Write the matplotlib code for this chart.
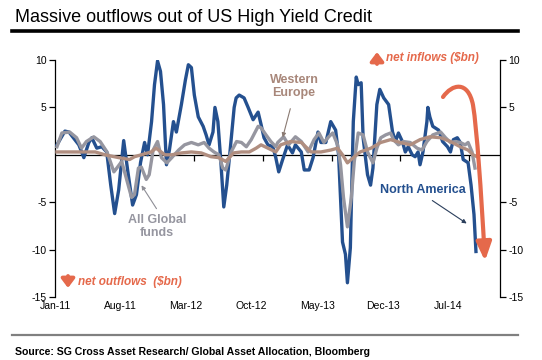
import matplotlib
matplotlib.use("Agg")
import matplotlib.pyplot as plt
from matplotlib.patches import FancyArrowPatch
from matplotlib.path import Path

plt.rcParams['font.family'] = ['Liberation Sans', 'DejaVu Sans']

# ---- data (x = months since Jan-2011, y = $bn) ----
na_x = [0.0, 0.81, 1.22, 2.23, 2.74, 3.25, 3.55, 4.06, 4.57, 5.07, 5.48, 5.88, 6.29, 6.80, 7.2, 7.71, 8.1,
        8.52, 8.93, 9.23, 9.64, 9.94, 10.25, 10.55, 10.86, 11.16, 11.46, 11.87, 12.17, 12.68, 13.09, 13.39,
        13.7, 14.0, 14.4, 14.9, 15.2, 15.5, 15.9, 16.1, 16.4, 16.7, 17.0, 17.3, 17.65, 18.06, 18.26, 18.57,
        19.07, 19.48, 19.99, 20.5, 20.8, 21.1, 21.5, 22.0, 22.3, 22.6, 23.0, 23.5, 24.0, 24.3, 24.9, 25.2,
        25.7, 26.1, 26.6, 26.9, 27.4, 27.9, 28.4, 28.7, 29.1, 29.4, 29.6, 29.9, 30.2, 30.5, 30.7, 31.0,
        31.2, 31.65, 31.96, 32.2, 32.6, 32.9, 33.3, 33.8, 34.2, 34.5, 34.8, 35.2, 35.5, 35.8, 36.2, 36.5,
        36.8, 37.0, 37.3, 37.7, 37.8, 38.0, 38.3, 38.9, 39.3, 39.8, 40.1, 40.4, 40.8, 41.1, 41.4, 41.7,
        41.9, 42.2, 42.5, 42.7]
na_y = [1.05, 2.5, 2.4, 1.05, -0.3, 1.3, 1.8, 0.7, 0.85, 0.3, -3.2, -6.2, -3.7, 1.5, -1.6, -5.3, -4.2,
        -0.8, 1.3, 0.0, 3.5, 7.4, 9.9, 8.8, 5.3, -1.05, 0.5, 3.5, 2.4, 5.3, 7.9, 9.5,
        9.2, 6.3, 4.0, 3.0, 2.1, 1.05, 2.4, 5.0, 3.5, -0.7, -5.5, -3.2, 0.5, 5.0, 6.0, 6.3,
        6.0, 5.0, 3.7, 4.5, 3.2, 1.8, 1.05, 0.85, -0.3, -1.8, -0.5, 1.05, 0.2, 1.05, 0.3, -1.6,
        -1.6, -0.3, 2.4, 1.3, 1.3, 3.5, 2.6, 0.0, -9.2, -10.5, -13.5, -9.8, 3.5, 8.2, 7.4, 7.6,
        1.8, -2.1, -3.2, -1.4, 5.3, 6.9, 6.0, 5.3, 2.4, 1.4, 2.3, 1.4, 0.3, 0.85, 0.0, -0.2,
        0.3, -1.05, 0.3, 3.5, 5.0, 4.0, 3.0, 2.6, 1.4, 0.85, 0.3, 1.6, 1.8, 1.3, -0.5, -0.7,
        -0.85, -3.2, -6.3, -10.2]

gl_x = [0.0, 0.5, 1.3, 2.0, 2.5, 3.0, 3.75, 4.4, 5.1, 5.8, 6.1, 6.6, 7.1, 7.6, 7.9, 8.3, 8.6, 9.1, 9.4,
        9.8, 10.25, 10.65, 11.2, 11.7, 12.4, 13.0, 13.7, 14.4, 15.0, 15.5, 16.0, 16.5, 16.9, 17.2, 17.75,
        18.3, 18.8, 19.3, 19.8, 20.5, 20.8, 21.3, 21.8, 22.3, 22.5, 23.1, 23.6, 24.3, 24.9, 25.6, 26.2,
        26.7, 27.2, 27.7, 28.1, 28.6, 28.9, 29.2, 29.6, 30.0, 30.3, 30.7, 31.2, 31.65, 32.2, 32.6, 33.0,
        33.5, 34.0, 34.3, 34.8, 35.3, 36.0, 36.7, 37.2, 37.7, 38.3, 39.1, 39.6, 40.1, 40.6, 41.1, 41.6,
        41.9, 42.3, 42.6]
gl_y = [0.85, 2.3, 2.4, 1.8, 0.7, 1.4, 1.9, 1.4, 0.3, -1.8, -1.4, -0.7, -2.6, -4.5, -4.2, -1.4, -1.3, -2.6, -2.1,
        0.5, 1.4, -0.3, -0.85, -0.3, 0.5, 1.05, 1.3, 1.05, 1.3, 0.7, 0.3, 0.0, -1.4, -1.6, 0.3,
        1.4, 1.3, 0.85, 1.6, 3.0, 2.85, 2.1, 1.4, 0.85, 1.3, 1.9, 1.05, 1.9, 1.4, 0.3, 1.6,
        2.3, 1.3, 1.9, 2.3, 1.05, -1.05, -4.5, -7.6, -4.5, -0.7, 2.3, 2.1, 0.3, -0.85, 0.7, 1.8,
        2.1, 2.3, 1.6, 1.05, 1.4, 1.3, 0.7, 0.5, 1.4, 2.1, 2.4, 1.8, 1.3, 1.4, 1.3, 1.05,
        1.3, 0.3, -1.4]

we_x = [0.0, 2.7, 3.9, 4.9, 6.3, 7.4, 7.9, 8.6, 9.6, 10.1, 11.0, 11.7, 12.7, 13.7, 14.7, 15.7, 16.5, 17.2,
        18.0, 18.8, 19.6, 20.3, 20.8, 21.5, 22.3, 22.8, 23.8, 24.9, 25.9, 26.9, 27.9, 28.6, 29.1, 29.6,
        30.2, 30.9, 32.0, 33.0, 34.0, 35.0, 36.0, 37.0, 38.0, 39.1, 40.1, 41.1, 41.9, 42.4, 42.8]
we_y = [0.3, 0.3, 0.3, 0.0, -0.3, -0.5, -0.2, 0.0, 0.3, 0.7, 0.0, 0.0, 0.2, 0.3, 0.2, -0.2, -0.3, -0.7,
        0.2, 0.3, 0.3, 0.7, 1.05, 0.7, 0.3, 1.05, 1.4, 1.3, 0.3, 0.3, 0.5, 0.7, 0.0, -0.85,
        -0.3, 0.3, 0.7, 1.3, 1.6, 1.3, 1.05, 1.6, 1.9, 1.8, 1.4, 0.85, 0.5, 0.0, -0.2]

tick_labels = ['Jan-11', 'Aug-11', 'Mar-12', 'Oct-12', 'May-13', 'Dec-13', 'Jul-14']
y_ticks = [10, 5, -5, -10, -15]

# ---- style ----
BLUE = '#24508F'
GREY = '#9696A0'
BROWN = '#B08E80'
RED = '#E5694B'

W, H = 542, 360
fig = plt.figure(figsize=(W / 100, H / 100), dpi=100)

def fx(px):
    return px / W

def fy(py):
    return 1 - py / H

ax = fig.add_axes([fx(55), fy(297), fx(500) - fx(55), fy(60) - fy(297)])
ax.set_xlim(0, 45.15)
ax.set_ylim(-15, 10)

ax.plot(na_x, na_y, color=BLUE, lw=2.4, solid_joinstyle='round', zorder=3)
ax.plot(gl_x, gl_y, color=GREY, lw=2.4, solid_joinstyle='round', zorder=4)
ax.plot(we_x, we_y, color=BROWN, lw=2.4, solid_joinstyle='round', zorder=5)

# zero line with tick marks
ax.axhline(0, color='black', lw=0.9, zorder=2)
minor_ticks = [7 * i for i in range(1, 7)]
ax.plot(minor_ticks, [0] * len(minor_ticks), ls='none', marker=3, ms=4, mew=0.9, color='black', zorder=2)

for s in ['top', 'bottom']:
    ax.spines[s].set_visible(False)
for s in ['left', 'right']:
    ax.spines[s].set_linewidth(0.9)

ax.set_yticks(y_ticks)
ax.set_yticklabels([str(v) for v in y_ticks])
ax.tick_params(axis='y', which='both', left=True, right=True, labelleft=True, labelright=True,
               direction='out', length=4, width=0.9, labelsize=7.5, pad=2)

label_pos = [-0.2 + 6.68 * i for i in range(len(tick_labels))]
ax.set_xticks(label_pos)
ax.set_xticklabels(tick_labels)
ax.tick_params(axis='x', length=0, labelsize=7.5, pad=3)

# ---- annotations ----
fig.text(fx(294), fy(74), 'Western\nEurope', ha='center', va='top',
         color='#A8877A', fontsize=9, fontweight='bold', linespacing=1.15)
fig.add_artist(FancyArrowPatch((fx(291), fy(106)), (fx(282), fy(140)), transform=fig.transFigure,
                               arrowstyle='-|>', mutation_scale=6, color='#8A7A72', lw=0.8))

fig.text(fx(157), fy(214), 'All Global\nfunds', ha='center', va='top', color=GREY,
         fontsize=9, fontweight='bold', linespacing=1.15)
fig.add_artist(FancyArrowPatch((fx(158), fy(211)), (fx(140), fy(183)), transform=fig.transFigure,
                               arrowstyle='-|>', mutation_scale=6, color='#8E8E96', lw=0.8))

fig.text(fx(423), fy(190), 'North America', ha='center', va='center', color=BLUE,
         fontsize=9, fontweight='bold')
fig.add_artist(FancyArrowPatch((fx(430), fy(199)), (fx(469), fy(225)), transform=fig.transFigure,
                               arrowstyle='-|>', mutation_scale=6, color='#2B3F5C', lw=0.8))

fig.text(fx(386), fy(58), 'net inflows ($bn)', ha='left', va='center', color=RED,
         fontsize=8.5, fontweight='bold', fontstyle='italic')
fig.text(fx(78), fy(282), 'net outflows  ($bn)', ha='left', va='center', color=RED,
         fontsize=8.5, fontweight='bold', fontstyle='italic')
fig.add_artist(FancyArrowPatch((fx(377), fy(64)), (fx(377), fy(52)), transform=fig.transFigure,
                               arrowstyle='-|>,head_length=0.4,head_width=0.3', mutation_scale=13,
                               color=RED, lw=2.8, shrinkA=0, shrinkB=0))
fig.add_artist(FancyArrowPatch((fx(68), fy(276)), (fx(68), fy(288)), transform=fig.transFigure,
                               arrowstyle='-|>,head_length=0.4,head_width=0.3', mutation_scale=13,
                               color=RED, lw=2.8, shrinkA=0, shrinkB=0))

# big curved arrow
verts = [(fx(443), fy(97)), (fx(452), fy(84)), (fx(468), fy(80)), (fx(473), fy(105)),
         (fx(477), fy(130)), (fx(481), fy(190)), (fx(485), fy(261))]
codes = [Path.MOVETO, Path.CURVE4, Path.CURVE4, Path.CURVE4, Path.CURVE4, Path.CURVE4, Path.CURVE4]
fig.add_artist(FancyArrowPatch(path=Path(verts, codes), transform=fig.transFigure,
                               arrowstyle='-|>,head_length=1.1,head_width=0.45', mutation_scale=10,
                               color=RED, lw=3.0, shrinkA=0, shrinkB=0))

# ---- title, rules, source ----
fig.text(fx(15), fy(17), 'Massive outflows out of US High Yield Credit', ha='left', va='center',
         fontsize=13, color='black')
fig.add_artist(plt.Line2D([fx(12), fx(518)], [fy(31), fy(31)], transform=fig.transFigure,
                          color='black', lw=2.6))
fig.add_artist(plt.Line2D([fx(12), fx(518)], [fy(335), fy(335)], transform=fig.transFigure,
                          color='#808080', lw=1.6))
fig.text(fx(15), fy(352), 'Source: SG Cross Asset Research/ Global Asset Allocation, Bloomberg',
         ha='left', va='center', fontsize=7.6, fontweight='bold', color='black')

fig.savefig('out.png', dpi=100)
